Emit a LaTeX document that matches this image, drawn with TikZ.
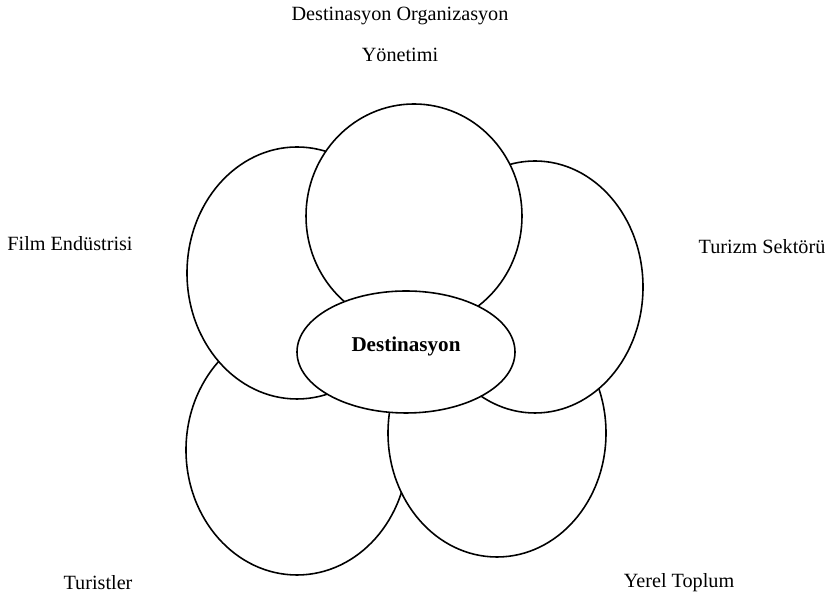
\documentclass[tikz,border=0pt]{standalone}
\usepackage{fontspec}
\setmainfont{Liberation Serif}
\usetikzlibrary{shapes.geometric}

\begin{document}
\begin{tikzpicture}

\tikzset{petal/.style = {shape=ellipse,draw,fill=white,line width=0.9pt,inner sep=0pt}}
\tikzset{caption/.style = {font=\fontsize{11.5}{13}\selectfont}}
\useasboundingbox (0,0) rectangle (16.66,11.96);
%ellipses
\node[petal, minimum width=4.44cm, minimum height=5.00cm] (tourists) at (5.94,2.96) {};
\node[petal, minimum width=4.36cm, minimum height=4.96cm] (local) at (9.94,3.30) {};
\node[petal, minimum width=4.40cm, minimum height=5.04cm] (film) at (5.94,6.50) {};
\node[petal, minimum width=4.32cm, minimum height=5.04cm] (sector) at (10.70,6.22) {};
\node[petal, minimum width=4.32cm, minimum height=4.48cm] (dmo) at (8.28,7.64) {};
\node[petal, minimum width=4.36cm, minimum height=2.44cm, caption] (dest) at (8.12,4.92) {\raisebox{0.3cm}{\fontsize{12}{14}\selectfont\textbf{Destinasyon}}};
%labels
\node[caption] (dmotext1) at (8.0,11.64) {Destinasyon Organizasyon};
\node[caption] (dmotext2) at (8.0,10.86) {Yönetimi};
\node[caption] (filmtext) at (1.40,7.08) {Film Endüstrisi};
\node[caption] (sectortext) at (15.24,7.02) {Turizm Sektörü};
\node[caption] (touriststext) at (1.96,0.30) {Turistler};
\node[caption] (localtext) at (13.58,0.30) {Yerel Toplum};

\end{tikzpicture}
\end{document}
